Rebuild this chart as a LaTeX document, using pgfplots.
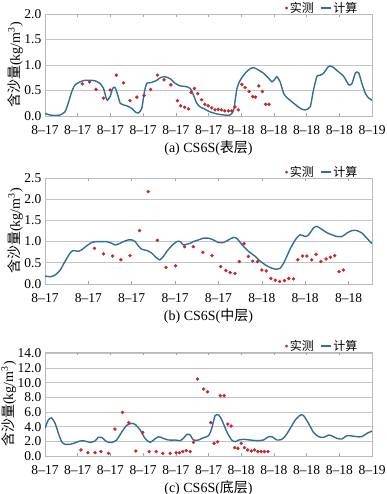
\documentclass[border=0pt]{standalone}
\usepackage{fontspec}
\setmainfont{Liberation Serif}
\newfontfamily\cjk{Noto Sans CJK SC}
\usepackage{pgfplots}
\pgfplotsset{compat=1.18}
\definecolor{curvecol}{HTML}{2F6E9A}
\definecolor{dotcol}{HTML}{C8262B}
\definecolor{gridcol}{HTML}{C4C4C4}
\pgfplotsset{
  panel/.style={
    scale only axis, width=327pt,
    axis line style={draw=gray!55, line width=0.6pt},
    ymajorgrids, major grid style={gridcol, line width=0.8pt},
    ytick style={draw=none},
    xtick style={draw=gray!70, line width=0.5pt},
    tick align=inside, major tick length=3pt,
    /pgf/number format/assume math mode=true,
    /pgf/number format/fixed, /pgf/number format/fixed zerofill,
    /pgf/number format/precision=1,
    tick label style={font=\fontsize{13.5}{15}\selectfont, inner sep=1pt},
    yticklabel style={xshift=-2.5pt},
    xticklabel style={yshift=-8pt},
    label style={font=\fontsize{14}{16}\selectfont},
    ylabel={{\cjk 含沙量}(kg/m\textsuperscript{3})},
    ylabel style={yshift=-3pt},
    xlabel style={yshift=-1.5pt},
    legend style={at={(0.965,0.97)}, anchor=south east, draw=none, fill=none,
      legend columns=2, font=\fontsize{12}{14}\selectfont\cjk, inner sep=1pt,
      /tikz/every even column/.append style={column sep=4pt},
      /tikz/every odd column/.append style={column sep=0pt}},
  },
  dotsty/.style={only marks, mark=*, mark size=1.5pt, draw=dotcol, fill=dotcol},
  linesty/.style={curvecol, line width=1.4pt, smooth, tension=0.4, mark=none},
  legdot/.style={legend image code/.code={\fill[dotcol] (6pt,0pt) circle (1.2pt);}},
  legline/.style={legend image code/.code={\draw[curvecol, line width=1.4pt] (0pt,0pt) -- (10pt,0pt);}},
}
\begin{document}
\begin{tikzpicture}
\useasboundingbox (0,0) rectangle (387pt,494pt);
% ---------------- (a)
\begin{axis}[panel, at={(45pt,378pt)}, anchor=south west, height=102pt,
  xmin=0, xmax=10, ymin=0, ymax=2, ytick={0,0.5,...,2.0},
  xtick={0,...,10},
  xticklabels={8--17,8--17,8--17,8--17,8--17,8--17,8--18,8--18,8--18,8--18,8--19},
  xlabel={(a) CS6S({\cjk 表层})}]
\addplot[dotsty, forget plot] coordinates {
(1.14,0.63)(1.36,0.67)(1.56,0.52)(1.79,0.35)(1.99,0.51)(2.18,0.80)(2.40,0.65)
(2.60,0.30)(2.81,0.37)(3.03,0.40)(3.23,0.52)(3.44,0.80)(3.64,0.71)(3.85,0.61)
(4.05,0.30)(4.15,0.20)(4.27,0.17)(4.39,0.14)(4.47,0.46)(4.57,0.54)(4.67,0.44)
(4.79,0.32)(4.89,0.23)(4.99,0.20)(5.10,0.16)(5.20,0.12)(5.30,0.13)(5.40,0.12)
(5.50,0.10)(5.61,0.10)(5.71,0.10)(5.81,0.18)(5.91,0.12)(6.02,0.62)(6.12,0.56)
(6.24,0.48)(6.35,0.38)(6.44,0.37)(6.54,0.59)(6.65,0.48)(6.75,0.23)(6.85,0.23)};
\addplot[linesty, forget plot] coordinates {
(0.00,0.05)(0.15,0.02)(0.31,0.01)(0.46,0.02)(0.61,0.08)(0.71,0.25)(0.82,0.48)
(0.92,0.61)(1.07,0.67)(1.22,0.70)(1.38,0.70)(1.53,0.69)(1.68,0.64)(1.79,0.54)
(1.87,0.35)(1.91,0.31)(1.99,0.38)(2.07,0.54)(2.14,0.56)(2.21,0.44)(2.30,0.25)
(2.38,0.22)(2.50,0.20)(2.65,0.15)(2.76,0.08)(2.86,0.06)(2.96,0.15)(3.03,0.44)
(3.11,0.64)(3.21,0.65)(3.32,0.67)(3.42,0.70)(3.52,0.75)(3.67,0.77)(3.83,0.73)
(3.98,0.64)(4.13,0.59)(4.29,0.58)(4.44,0.54)(4.54,0.41)(4.64,0.25)(4.74,0.18)
(4.90,0.13)(5.05,0.08)(5.26,0.04)(5.46,0.02)(5.66,0.02)(5.77,0.12)(5.87,0.54)
(5.97,0.70)(6.12,0.84)(6.28,0.93)(6.38,0.95)(6.53,0.90)(6.68,0.84)(6.84,0.74)
(6.94,0.67)(7.04,0.73)(7.09,0.77)(7.19,0.67)(7.30,0.44)(7.40,0.36)(7.55,0.28)
(7.70,0.20)(7.86,0.13)(7.96,0.12)(8.11,0.18)(8.21,0.51)(8.32,0.78)(8.42,0.80)
(8.52,0.84)(8.67,0.97)(8.78,0.97)(8.93,0.89)(9.13,0.78)(9.29,0.61)(9.39,0.64)
(9.49,0.84)(9.59,0.85)(9.69,0.64)(9.80,0.44)(9.90,0.35)(10.00,0.31)};
\addlegendimage{legdot}
\addlegendentry{实测}
\addlegendimage{legline}
\addlegendentry{计算}
\end{axis}
% ---------------- (b)
\begin{axis}[panel, at={(45pt,210pt)}, anchor=south west, height=106pt,
  xmin=0, xmax=7.54, ymin=0, ymax=2.5, ytick={0,0.5,...,2.5},
  xtick={0,...,7},
  xticklabels={8--17,8--17,8--17,8--17,8--17,8--18,8--18,8--18},
  xlabel={(b) CS6S({\cjk 中层})}]
\addplot[dotsty, forget plot] coordinates {
(1.14,0.84)(1.35,0.71)(1.56,0.66)(1.75,0.57)(1.96,0.67)(2.18,1.26)(2.38,2.18)
(2.59,1.03)(2.79,0.39)(3.01,0.43)(3.22,0.88)(3.42,0.88)(3.64,0.75)(3.85,0.67)
(4.05,0.41)(4.17,0.32)(4.27,0.27)(4.38,0.25)(4.48,0.53)(4.59,0.95)(4.69,0.65)
(4.79,0.54)(4.90,0.53)(5.00,0.33)(5.10,0.31)(5.21,0.13)(5.31,0.09)(5.41,0.06)
(5.52,0.08)(5.62,0.13)(5.73,0.12)(5.83,0.57)(5.94,0.66)(6.04,0.66)(6.15,0.57)
(6.25,0.70)(6.36,0.53)(6.48,0.59)(6.58,0.63)(6.68,0.67)(6.78,0.29)(6.88,0.33)};
\addplot[linesty, forget plot] coordinates {
(0.00,0.19)(0.12,0.17)(0.23,0.21)(0.35,0.33)(0.46,0.53)(0.58,0.73)(0.65,0.79)
(0.77,0.77)(0.85,0.81)(0.96,0.90)(1.08,0.98)(1.19,1.00)(1.31,1.00)(1.42,1.00)
(1.54,0.96)(1.62,0.92)(1.69,0.94)(1.81,1.00)(1.92,1.04)(2.00,1.04)(2.08,1.00)
(2.15,0.90)(2.23,0.82)(2.35,0.79)(2.46,0.73)(2.58,0.61)(2.65,0.57)(2.73,0.65)
(2.81,0.77)(2.92,0.90)(3.04,1.00)(3.12,1.00)(3.19,0.92)(3.27,0.94)(3.35,0.96)
(3.42,1.00)(3.54,1.04)(3.65,1.08)(3.77,1.08)(3.88,1.04)(4.00,0.98)(4.12,0.98)
(4.23,1.04)(4.35,1.10)(4.42,1.08)(4.50,0.98)(4.62,0.84)(4.73,0.74)(4.85,0.65)
(4.96,0.54)(5.08,0.45)(5.19,0.39)(5.31,0.35)(5.42,0.37)(5.50,0.49)(5.58,0.66)
(5.65,0.82)(5.77,1.04)(5.88,1.16)(6.00,1.12)(6.08,1.16)(6.19,1.32)(6.27,1.36)
(6.38,1.29)(6.50,1.21)(6.62,1.16)(6.73,1.12)(6.85,1.12)(6.96,1.20)(7.08,1.26)
(7.19,1.26)(7.31,1.20)(7.42,1.08)(7.54,0.95)};
\addlegendimage{legdot}
\addlegendentry{实测}
\addlegendimage{legline}
\addlegendentry{计算}
\end{axis}
% ---------------- (c)
\begin{axis}[panel, at={(45pt,38pt)}, anchor=south west, height=104pt,
  xmin=0, xmax=10, ymin=0, ymax=14.2, ytick={0,2,...,14},
  xtick={0,...,10},
  xticklabels={8--17,8--17,8--17,8--17,8--17,8--17,8--18,8--18,8--18,8--18,8--19},
  xlabel={(c) CS6S({\cjk 底层})}]
\addplot[dotsty, forget plot] coordinates {
(1.10,0.82)(1.31,0.45)(1.53,0.45)(1.71,0.60)(1.94,0.36)(2.14,3.68)(2.37,5.95)
(2.56,4.55)(2.78,0.68)(2.99,3.23)(3.19,0.60)(3.40,0.60)(3.60,0.36)(3.83,0.36)
(4.01,0.45)(4.11,0.45)(4.21,0.60)(4.32,0.73)(4.44,0.60)(4.54,1.86)(4.66,10.5)
(4.85,9.14)(4.97,8.77)(5.07,4.55)(5.17,1.73)(5.28,1.95)(5.36,8.23)(5.48,8.23)
(5.59,4.36)(5.69,4.09)(5.80,1.14)(5.90,1.05)(6.00,1.73)(6.10,1.14)(6.20,0.82)
(6.31,0.68)(6.41,0.82)(6.51,0.60)(6.61,0.60)(6.71,0.60)(6.82,0.60)};
\addplot[linesty, forget plot] coordinates {
(0.00,3.77)(0.10,4.90)(0.20,5.20)(0.31,4.45)(0.41,3.10)(0.51,1.95)(0.61,1.60)
(0.77,1.60)(0.92,1.80)(1.07,2.05)(1.22,2.05)(1.38,1.86)(1.53,2.05)(1.63,2.55)
(1.73,2.55)(1.89,1.95)(2.04,1.86)(2.19,2.18)(2.35,3.30)(2.50,4.20)(2.65,4.45)
(2.76,4.30)(2.91,3.55)(3.06,2.40)(3.21,1.86)(3.32,2.18)(3.47,2.64)(3.62,2.40)
(3.78,2.18)(3.98,2.18)(4.13,2.10)(4.23,2.40)(4.34,2.95)(4.44,2.86)(4.54,2.18)
(4.69,2.18)(4.85,2.50)(5.00,2.77)(5.10,3.77)(5.20,5.50)(5.31,5.60)(5.41,4.90)
(5.56,3.30)(5.71,2.18)(5.82,1.95)(5.92,2.18)(6.07,2.27)(6.28,2.18)(6.48,2.10)
(6.68,2.18)(6.84,2.64)(6.94,2.64)(7.09,2.18)(7.24,2.27)(7.35,2.73)(7.50,3.77)
(7.65,4.90)(7.81,5.60)(7.91,5.50)(8.06,4.45)(8.21,3.23)(8.37,2.64)(8.52,2.55)
(8.67,2.86)(8.78,2.73)(8.93,2.40)(9.08,2.32)(9.23,2.77)(9.39,2.73)(9.54,2.64)
(9.69,2.64)(9.85,3.10)(10.00,3.40)};
\addlegendimage{legdot}
\addlegendentry{实测}
\addlegendimage{legline}
\addlegendentry{计算}
\end{axis}
\end{tikzpicture}
\end{document}
